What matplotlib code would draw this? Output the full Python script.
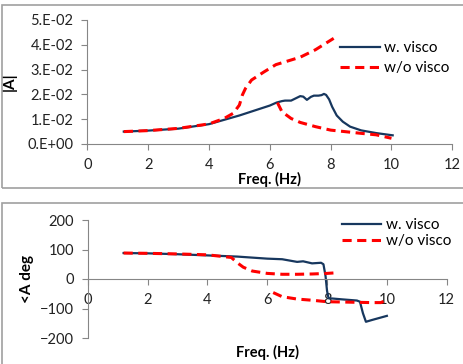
import numpy as np
import matplotlib
matplotlib.use("Agg")
import matplotlib.pyplot as plt
from matplotlib.patches import Rectangle

nan = np.nan

# |A| with visco
amp_x_w = [1.2, 2, 3, 4, 5, 6, 6.22, 6.4, 6.5, 6.7, 6.85, 7.0, 7.1, 7.22, 7.35, 7.45, 7.6, 7.7, 7.78,
           7.85, 7.95, 8.05, 8.2, 8.4, 8.64, 9.0, 9.5, 10.04]
amp_y_w = [0.0050, 0.0054, 0.0062, 0.0080, 0.0115, 0.0155, 0.0167, 0.0173, 0.0175, 0.0175, 0.0184,
           0.0193, 0.0191, 0.0178, 0.0190, 0.0195, 0.0195, 0.0197, 0.0202,
           0.0198, 0.0180, 0.0150, 0.0115, 0.0090, 0.0070, 0.0055, 0.0044, 0.0035]

# |A| without visco (two branches)
amp_x_wo = [1.2, 2, 3, 4, 4.5, 4.8, 5.0, 5.1, 5.2, 5.4, 5.8, 6.2, 7.0, 7.5, 8.1, nan,
            6.25, 6.4, 6.7, 7.0, 7.5, 8.0, 9.0, 9.5, 10.0]
amp_y_wo = [0.0050, 0.0054, 0.0063, 0.0081, 0.0103, 0.0124, 0.0157, 0.0198, 0.0224, 0.0258, 0.0290,
            0.0320, 0.0350, 0.0380, 0.0426, nan,
            0.0167, 0.0130, 0.0103, 0.0087, 0.0070, 0.0056, 0.0043, 0.0037, 0.0023]

# phase with visco
ph_x_w = [1.2, 2, 3, 4, 5, 6, 6.5, 7.0, 7.2, 7.5, 7.8, 7.88, 7.95, 8.0, 8.05, 8.5, 9.0, 9.1,
          9.2, 9.3, 9.5, 10.0]
ph_y_w = [88, 87, 84, 80, 76, 69, 67, 58, 60, 53, 55, 50, 10, -40, -65, -69, -73, -77,
          -116, -145, -139, -125]

# phase without visco (two branches)
ph_x_wo = [1.2, 2, 3, 4, 4.8, 5.0, 5.2, 5.5, 6.0, 6.5, 7.0, 7.5, 8.0, 8.3, nan,
           6.2, 6.5, 7.0, 7.5, 8.0, 9.0, 9.5, 9.8, 10.0]
ph_y_wo = [88, 87, 85, 82, 73, 55, 40, 27, 19, 16, 16, 17, 19, 21, nan,
           -46, -60, -68, -72, -77, -79, -80, -80, -71]

blue = "#17375E"
red = "#FF0000"
gray = "#868686"
plt.rcParams['font.family'] = ['Lato', 'DejaVu Sans']

fig = plt.figure(figsize=(4.64, 3.64), dpi=100)

# chart borders
fig.patches.append(Rectangle((2 / 464, 1 - 188 / 364), 1.0, 183 / 364, transform=fig.transFigure,
                             fill=False, edgecolor="#A0A0A0", linewidth=1.2))
fig.patches.append(Rectangle((2 / 464, -0.05), 1.0, 1 - 203 / 364 + 0.05, transform=fig.transFigure,
                             fill=False, edgecolor="#A0A0A0", linewidth=1.2))


def style(ax):
    for s in ['top', 'right']:
        ax.spines[s].set_visible(False)
    for s in ['left', 'bottom']:
        ax.spines[s].set_color(gray)
        ax.spines[s].set_linewidth(0.8)
    ax.tick_params(colors=gray, labelcolor="#222222", labelsize=10.5, length=4, width=0.8)
    ax.tick_params(axis='x', pad=6)
    ax.tick_params(axis='y', pad=6)
    ax.set_xlim(0, 12)
    ax.set_xticks(range(0, 13, 2))


ax1 = fig.add_axes([87.3 / 464, 1 - 144 / 364, 365 / 464, 124 / 364])
ax1.plot(amp_x_w, amp_y_w, color=blue, lw=1.6, label="w. visco")
ax1.plot(amp_x_wo, amp_y_wo, color=red, lw=2.2, ls=(0, (3, 1.8)), label="w/o visco")
style(ax1)
ax1.set_ylim(0, 0.05)
ax1.set_yticks(np.arange(0, 0.051, 0.01))
ax1.set_yticklabels(["0.E+00", "1.E-02", "2.E-02", "3.E-02", "4.E-02", "5.E-02"])
ax1.set_xlabel("Freq. (Hz)", fontweight="bold", fontsize=10.5, labelpad=0)
ax1.set_ylabel("|A|", fontweight="bold", fontsize=11, labelpad=8)
ax1.legend(loc="upper left", bbox_to_anchor=(0.676, 0.88), frameon=False, fontsize=11,
           handlelength=2.6, handletextpad=0.3, labelspacing=0.4, borderaxespad=0)

ax2 = fig.add_axes([87.7 / 464, 1 - 338 / 364, 359 / 464, 118 / 364])
ax2.plot(ph_x_w, ph_y_w, color=blue, lw=1.6, label="w. visco")
ax2.plot(ph_x_wo, ph_y_wo, color=red, lw=2.2, ls=(0, (3, 1.8)), label="w/o visco")
style(ax2)
ax2.set_ylim(-200, 200)
ax2.set_yticks(range(-200, 201, 100))
ax2.spines['bottom'].set_position(('data', 0))
ax2.set_xticks(range(0, 13, 2))
ax2.set_xlabel("Freq. (Hz)", fontweight="bold", fontsize=10.5, labelpad=0)
ax2.xaxis.set_label_coords(0.5, -0.06)
ax2.set_ylabel("<A deg", fontweight="bold", fontsize=11, labelpad=4)
ax2.legend(loc="upper left", bbox_to_anchor=(0.69, 1.07), frameon=False, fontsize=11,
           handlelength=2.6, handletextpad=0.3, labelspacing=0.15, borderaxespad=0)

fig.savefig("out.png", dpi=100)
